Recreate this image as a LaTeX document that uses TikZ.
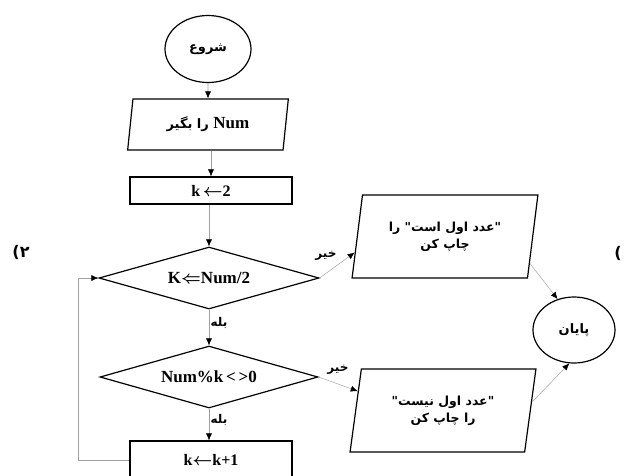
\documentclass[tikz,border=0pt]{standalone}
\usepackage{fontspec}
\setmainfont{Liberation Serif}
\newfontfamily\fa[Script=Arabic]{DejaVu Sans}
\newfontfamily\dejavu{DejaVu Sans}
\TeXXeTstate=1
\usetikzlibrary{shapes.geometric,arrows.meta,calc}
\begin{document}
\begin{tikzpicture}[x=1pt,y=-1pt,
  outl/.style={draw=black,line width=1.2pt,inner sep=0pt},
  term/.style={outl,ellipse,minimum width=86pt,minimum height=67pt,font=\fa\bfseries\fontsize{13}{15}\selectfont},
  io/.style={outl,trapezium,trapezium left angle=79,trapezium right angle=101,trapezium stretches=true,minimum width=162pt,minimum height=51pt},
  ioright/.style={outl,trapezium,trapezium left angle=76.5,trapezium right angle=103.5,trapezium stretches=true,minimum width=186pt,minimum height=83pt,align=center,font=\fa\bfseries\fontsize{12.5}{17}\selectfont},
  procbox/.style={outl,rectangle,minimum width=162pt,font=\fontsize{16}{18}\selectfont\bfseries},
  decision/.style={outl,diamond,aspect=3.5,minimum width=220pt,minimum height=62pt,font=\fontsize{17}{19}\selectfont\bfseries},
  lbl/.style={inner sep=0pt,font=\fa\bfseries\fontsize{12}{14}\selectfont},
  side/.style={inner sep=0pt,font=\dejavu\bfseries\fontsize{16}{18}\selectfont},
  arr/.style={draw=gray!75,line width=0.6pt,-{Latex[length=7pt,width=6pt,color=black]}},
  arrthin/.style={draw=gray!70,line width=0.5pt,-{Latex[length=7pt,width=6pt,color=black]}}
]
\useasboundingbox (0,0) rectangle (627,475);
\fill[white] (0,0) rectangle (627,475);

% main column
\node[term] (start) at (208,49) {\beginR شروع\endR};
\node[io] (input) at (208,124.5) {\fa\bfseries\fontsize{13}{15}\selectfont\beginR\beginL{\rmfamily\bfseries\fontsize{17}{19}\selectfont Num}\endL{} را بگیر\endR};
\node[procbox,minimum height=27pt] (init) at (211,190.5) {k\,{\boldmath$\leftarrow$}2};
\node[decision] (d1) at (209,278) {K{\boldmath$\Leftarrow$}Num/2};
\node[decision,minimum width=218pt] (d2) at (209,377) {Num\%k\,<\,>0};
\node[procbox,minimum height=38pt] (inc) at (211,460) {k{\boldmath$\leftarrow$}k+1};

% right column
\node[ioright] (p1) at (445,236.5) {\beginR "عدد اول است" را\endR\\\beginR چاپ کن\endR};
\node[ioright] (p2) at (443,410.5) {\beginR "عدد اول نیست"\endR\\\beginR را چاپ کن\endR};
\node[term,minimum width=82pt,minimum height=66pt] (stop) at (574,330) {\beginR پایان\endR};

% labels
\node[lbl] (no1) at (326,256) {\beginR خیر\endR};
\node[lbl] (no2) at (338,370) {\beginR خیر\endR};
\node[lbl] (yes1) at (219,323) {\beginR بله\endR};
\node[lbl] (yes2) at (219,420) {\beginR بله\endR};
\node[side] (m2) at (21,252) {({\fa ۲}};
\node[side] (m1) at (618,253) {(};

% connectors
\draw[arr] (start) -- (input);
\draw[arr] (input.south -| init.north) -- (init.north);
\draw[arr] (init.south -| d1.north) -- (d1.north);
\draw[arr] (d1.south) -- (d2.north);
\draw[arr] (d2.south) -- (d2.south |- inc.north);
\coordinate (loopx) at (78,0);
\draw[arr] (inc.west) -- (inc.west -| loopx) |- (d1.west);

\draw[arrthin] (d1.east) -- ($(p1.bottom left corner)!0.31!(p1.top left corner)$);
\draw[arrthin] (d2.east) -- ($(p2.bottom left corner)!0.73!(p2.top left corner)$);
\draw[arrthin] ($(p1.bottom right corner)!0.18!(p1.top right corner)$) -- (stop.118);
\draw[arrthin] ($(p2.bottom right corner)!0.6!(p2.top right corner)$) -- (stop.262);
\end{tikzpicture}
\end{document}
